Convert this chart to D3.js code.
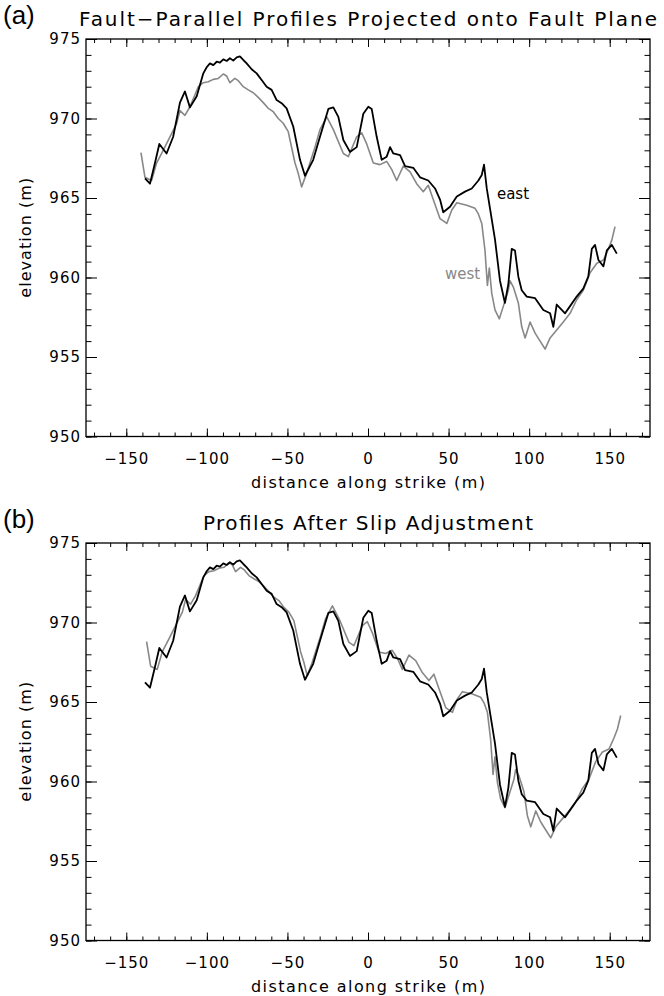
<!DOCTYPE html>
<html>
<head>
<meta charset="utf-8">
<script src="https://cdn.jsdelivr.net/npm/d3@7"></script>
<style>
body { margin: 0; background: #fff; }
svg text { font-family: "DejaVu Sans", sans-serif; fill: #000; }
</style>
</head>
<body>
<script>
// east profile (black), distance along strike (m) and elevation (m)
const eastDistance = [-138.4, -135.3, -132.2, -129.5, -125.0, -120.9, -116.7, -113.6, -110.5, -106.3,
  -102.2, -100.1, -98.1, -96.0, -93.9, -91.9, -89.8, -87.7, -85.7, -83.6,
  -81.5, -79.5, -77.4, -75.3, -72.2, -69.1, -66.0, -62.9, -59.8, -56.7,
  -53.6, -50.5, -46.4, -42.2, -39.1, -34.0, -29.8, -24.6, -21.5, -18.4,
  -15.3, -11.2, -7.0, -2.9, 0.2, 2.3, 5.4, 8.5, 11.6, 13.7,
  15.7, 19.9, 23.0, 28.1, 32.3, 37.4, 41.6, 44.7, 46.7, 50.9,
  55.1, 60.2, 64.4, 68.5, 70.6, 72.0, 73.7, 75.7, 78.8, 81.9,
  85.0, 87.1, 89.2, 91.2, 93.3, 95.4, 98.5, 103.7, 108.8, 113.0,
  115.0, 117.1, 122.3, 125.4, 129.5, 133.6, 136.7, 138.9, 140.9, 143.0,
  146.1, 148.2, 151.3, 154.4];
const eastElevation = [966.24, 965.9, 967.2, 968.4, 967.8, 968.85, 971.0, 971.7, 970.7, 971.4,
  972.84, 973.22, 973.47, 973.36, 973.57, 973.51, 973.72, 973.62, 973.79, 973.64,
  973.85, 973.9, 973.68, 973.47, 973.1, 972.84, 972.42, 972.0, 971.8, 971.16,
  970.96, 970.64, 969.5, 967.4, 966.4, 967.4, 968.85, 970.6, 970.7, 970.1,
  968.65, 967.9, 968.2, 970.3, 970.74, 970.6, 968.85, 967.4, 967.6, 968.2,
  967.8, 967.7, 967.0, 966.9, 966.3, 966.1, 965.6, 964.9, 964.1, 964.45,
  965.1, 965.4, 965.6, 966.1, 966.45, 967.1, 965.6, 964.35, 962.4, 959.8,
  958.4, 959.6, 961.8, 961.7, 960.05, 959.2, 958.8, 958.7, 957.96, 957.75,
  956.9, 958.3, 957.75, 958.2, 958.8, 959.3, 960.05, 961.8, 962.05, 961.1,
  960.7, 961.7, 962.05, 961.5];

// west profile (grey), as projected onto the fault plane
const westDistance = [-140.9, -138.4, -134.3, -131.2, -127.1, -122.9, -118.7, -116.7, -113.6, -110.5,
  -105.3, -102.2, -99.1, -96.0, -92.9, -89.8, -87.7, -85.7, -82.6, -80.5,
  -77.4, -74.3, -71.2, -68.1, -65.0, -61.9, -58.8, -55.7, -52.6, -49.5,
  -48.4, -45.3, -43.3, -41.2, -38.1, -32.9, -29.8, -25.6, -21.5, -15.3,
  -12.2, -7.0, -3.9, -0.8, 3.3, 7.4, 11.6, 14.7, 17.8, 21.9,
  26.1, 30.2, 34.3, 37.4, 40.5, 44.7, 48.9, 52.0, 55.1, 61.3,
  66.4, 68.5, 70.6, 72.6, 74.1, 75.3, 76.8, 78.8, 81.5, 84.0,
  87.1, 88.1, 90.2, 93.3, 95.4, 97.5, 100.6, 103.7, 106.8, 109.9,
  113.0, 117.1, 121.2, 125.4, 129.5, 133.6, 137.8, 142.0, 146.1, 149.2,
  151.3, 153.3];
const westElevation = [967.85, 966.3, 966.1, 967.2, 968.0, 968.85, 969.7, 970.5, 970.2, 970.74,
  972.0, 972.25, 972.31, 972.46, 972.52, 972.8, 972.67, 972.25, 972.52, 972.38,
  972.0, 971.8, 971.62, 971.33, 971.0, 970.64, 970.43, 970.0, 969.7, 969.17,
  968.65, 967.2, 966.55, 965.7, 966.55, 968.2, 969.3, 970.1, 969.3, 967.8,
  967.6, 968.85, 969.1, 968.4, 967.2, 967.1, 967.3, 966.8, 966.1, 967.0,
  966.65, 965.9, 965.4, 965.8, 964.9, 963.7, 963.4, 964.25, 964.7, 964.55,
  964.35, 964.0, 963.4, 961.7, 959.5, 960.6, 959.0, 957.96, 957.4, 958.2,
  959.2, 959.8, 959.4, 958.4, 956.9, 956.2, 957.2, 956.5, 956.0, 955.5,
  956.2, 956.7, 957.2, 957.75, 958.6, 959.2, 960.3, 960.9, 961.1, 961.8,
  962.35, 963.2];

// slip applied to the west profile in panel (b): along strike, vertical (m)
const slipDistance = 3.5;
const slipElevation = 0.95;

const xTickValues = [-150, -100, -50, 0, 50, 100, 150];
const yTickValues = [950, 955, 960, 965, 970, 975];
const panelLetters = ['(a)', '(b)'];
const panelTitles = ['Fault\u2212Parallel Profiles Projected onto Fault Plane', 'Profiles After Slip Adjustment'];

const east = eastDistance.map((d, i) => [d, eastElevation[i]]);
const westA = westDistance.map((d, i) => [d, westElevation[i]]);
const westB = westDistance.map((d, i) => [d + slipDistance, westElevation[i] + slipElevation]);

const svg = d3.select('body').append('svg')
    .attr('width', 664)
    .attr('height', 996);

const plotLeft = 86;
const plotWidth = 564;
const plotHeight = 397.5;
const panelTops = [39, 543];

const x = d3.scaleLinear().domain([-175, 175]).range([0, plotWidth]);
const y = d3.scaleLinear().domain([950, 975]).range([plotHeight, 0]);
const line = d3.line().x(d => x(d[0])).y(d => y(d[1]));

const xMinor = d3.range(-170, 171, 10);
const yMinor = d3.range(950, 976, 1);
const noDomain = s => s.select('.domain').remove();

function drawPanel(i, lines) {
    const g = svg.append('g').attr('transform', 'translate(' + plotLeft + ',' + panelTops[i] + ')');

    // ticks on all four sides, pointing inward
    g.append('g').attr('transform', 'translate(0,' + plotHeight + ')')
        .call(d3.axisBottom(x).tickValues(xMinor).tickSize(-4).tickFormat('')).call(noDomain);
    g.append('g').attr('class', 'xlab').attr('transform', 'translate(0,' + plotHeight + ')')
        .call(d3.axisBottom(x).tickValues(xTickValues).tickSize(-8).tickPadding(17)).call(noDomain);
    g.append('g').call(d3.axisTop(x).tickValues(xMinor).tickSize(-4).tickFormat('')).call(noDomain);
    g.append('g').call(d3.axisTop(x).tickValues(xTickValues).tickSize(-8).tickFormat('')).call(noDomain);

    g.append('g').call(d3.axisLeft(y).tickValues(yMinor).tickSize(-5.5).tickFormat('')).call(noDomain);
    g.append('g').attr('class', 'ylab')
        .call(d3.axisLeft(y).tickValues(yTickValues).tickSize(-11).tickPadding(5)).call(noDomain);
    g.append('g').attr('transform', 'translate(' + plotWidth + ',0)')
        .call(d3.axisRight(y).tickValues(yMinor).tickSize(-5.5).tickFormat('')).call(noDomain);
    g.append('g').attr('transform', 'translate(' + plotWidth + ',0)')
        .call(d3.axisRight(y).tickValues(yTickValues).tickSize(-11).tickFormat('')).call(noDomain);

    g.selectAll('.tick line').attr('stroke', '#000').attr('stroke-width', 1);
    g.selectAll('.xlab text, .ylab text')
        .style('font-size', '15px')
        .style('letter-spacing', '1px')
        .style('font-family', '"DejaVu Sans", sans-serif')
        .attr('fill', '#000');

    g.append('rect')
        .attr('width', plotWidth)
        .attr('height', plotHeight)
        .attr('fill', 'none')
        .attr('stroke', '#000')
        .attr('stroke-width', 1.3);

    lines.forEach(l => {
        g.append('path')
            .datum(l.data)
            .attr('fill', 'none')
            .attr('stroke', l.color)
            .attr('stroke-width', l.width)
            .attr('stroke-linejoin', 'round')
            .attr('d', line);
    });

    g.append('text')
        .attr('x', plotWidth / 2)
        .attr('y', plotHeight + 51)
        .attr('text-anchor', 'middle')
        .attr('textLength', 234)
        .attr('lengthAdjust', 'spacing')
        .style('font-size', '16px')
        .text('distance along strike (m)');

    g.append('text')
        .attr('transform', 'translate(' + (31 - plotLeft) + ',' + (plotHeight / 2) + ') rotate(-90)')
        .attr('text-anchor', 'middle')
        .attr('textLength', 120)
        .attr('lengthAdjust', 'spacing')
        .style('font-size', '16px')
        .text('elevation (m)');

    g.append('text')
        .attr('x', plotWidth / 2)
        .attr('y', -13)
        .attr('text-anchor', 'middle')
        .attr('textLength', i === 0 ? 578 : 330)
        .attr('lengthAdjust', 'spacing')
        .style('font-size', '20px')
        .text(panelTitles[i]);

    svg.append('text')
        .attr('x', 3)
        .attr('y', panelTops[i] - 15)
        .style('font-family', '"Liberation Sans", Arial, sans-serif')
        .style('font-size', '26px')
        .text(panelLetters[i]);

    return g;
}

const gA = drawPanel(0, [
    { data: westA, color: '#888', width: 1.6 },
    { data: east, color: '#000', width: 1.8 }
]);
drawPanel(1, [
    { data: westB, color: '#888', width: 1.6 },
    { data: east, color: '#000', width: 1.8 }
]);

gA.append('text')
    .attr('x', x(80)).attr('y', y(964.95))
    .style('font-size', '15px')
    .text('east');
gA.append('text')
    .attr('x', x(47.8)).attr('y', y(959.9))
    .style('font-size', '15px')
    .style('fill', '#888')
    .text('west');
</script>
</body>
</html>
